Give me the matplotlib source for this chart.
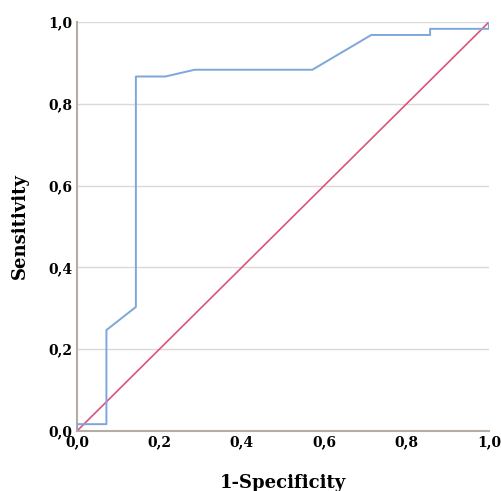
import matplotlib.pyplot as plt
import numpy as np

# ROC curve
fpr = [0.0, 0.0, 0.0714, 0.0714, 0.1429, 0.1429, 0.2143, 0.2857, 0.5714, 0.7143, 0.8571, 0.8571, 1.0, 1.0]
tpr = [0.0, 0.0167, 0.0167, 0.2467, 0.3033, 0.8667, 0.8667, 0.8833, 0.8833, 0.9683, 0.9683, 0.9833, 0.9833, 1.0]
ticks = [0.0, 0.2, 0.4, 0.6, 0.8, 1.0]
tick_labels = ['0,0', '0,2', '0,4', '0,6', '0,8', '1,0']

fig = plt.figure(figsize=(5.01, 4.91), dpi=100)
ax = fig.add_axes([0.1537, 0.1222, 0.8223, 0.833])

for t in ticks[1:]:
    ax.axhline(t, color='#dcd8d4', lw=1, zorder=0)

ax.plot(fpr, tpr, color='#7fa6d8', lw=1.4, zorder=3)
ax.plot([0, 1], [0, 1], color='#d9557a', lw=1.2, zorder=2)

ax.set_xlim(0, 1)
ax.set_ylim(0, 1)
ax.set_xticks(ticks)
ax.set_yticks(ticks)
font = {'family': 'DejaVu Serif', 'weight': 'bold', 'size': 10}
ax.set_xticklabels(tick_labels, fontdict=font)
ax.set_yticklabels(tick_labels, fontdict=font)
ax.tick_params(length=0, pad=3)

for s in ['top', 'right']:
    ax.spines[s].set_visible(False)
for s in ['left', 'bottom']:
    ax.spines[s].set_color('#b5aca4')
    ax.spines[s].set_linewidth(1.5)

ax.set_xlabel('1-Specificity', fontfamily='DejaVu Serif', fontweight='bold', fontsize=13, labelpad=18)
ax.set_ylabel('Sensitivity', fontfamily='DejaVu Serif', fontweight='bold', fontsize=13, labelpad=14)

fig.savefig('out.png', dpi=100)
